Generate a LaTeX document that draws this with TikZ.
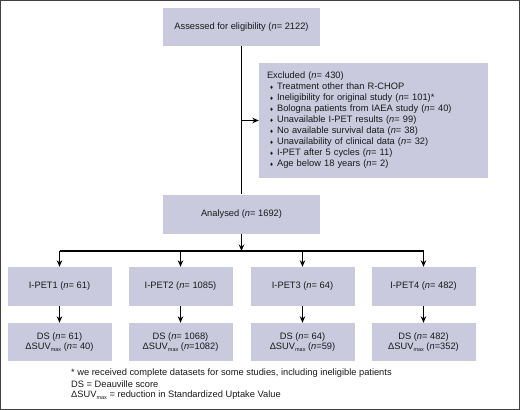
\documentclass[tikz,border=0pt]{standalone}
\usepackage{fontspec}
\setmainfont{Liberation Sans}
\usetikzlibrary{arrows.meta}
\definecolor{boxfill}{RGB}{201,202,221}
\definecolor{txt}{RGB}{25,25,25}
\newcommand{\nn}{\textit{n}}
\newcommand{\bul}{\hspace*{3pt}{\fontsize{6}{6}\selectfont ♦}\hspace{4pt}}
\newcommand{\dsuv}{ΔSUV\raisebox{-2.2pt}{\fontsize{5.5}{5.5}\selectfont max}}
\begin{document}
\begin{tikzpicture}[x=1pt,y=-1pt,
  every node/.style={font=\fontsize{9.3}{11}\selectfont, text=txt},
  boxa/.style={fill=boxfill, draw=none, inner sep=0pt, align=center},
  conn/.style={line width=1.1pt, black},
  arr/.style={conn, -{Stealth[length=6.5pt,width=5.5pt]}}]
\useasboundingbox (0,0) rectangle (520,410);
\draw[black!75, line width=1.3pt] (0.65,0.65) rectangle (519.35,409.35);
\node[boxa, minimum width=157pt, minimum height=38pt] (assess) at (241.5,27) {Assessed for eligibility (\nn= 2122)};
\node[boxa, minimum width=229pt, minimum height=115pt, text width=213pt, align=left, inner xsep=8pt] (excl) at (373.5,120.5) {Excluded (\nn= 430)\\
\bul Treatment other than R-CHOP\\
\bul Ineligibility for original study (\nn= 101)*\\
\bul Bologna patients from IAEA study (\nn= 40)\\
\bul Unavailable I-PET results (\nn= 99)\\
\bul No available survival data (\nn= 38)\\
\bul Unavailability of clinical data (\nn= 32)\\
\bul I-PET after 5 cycles (\nn= 11)\\
\bul Age below 18 years (\nn= 2)};
\node[boxa, minimum width=157pt, minimum height=39pt] (anal) at (241.5,214) {Analysed (\nn= 1692)};
\coordinate (j) at (241.5,251);
\foreach \i/\x/\a/\b/\c in {1/59.5/61/61/\nn= 40, 2/180.5/1085/1068/\nn=1082, 3/302.5/64/64/\nn=59, 4/423.5/482/482/\nn=352} {
  \node[boxa, minimum width=104pt, minimum height=39pt] (pet\i) at (\x,286.5) {I-PET\i\ (\nn= \a)};
  \node[boxa, minimum width=104pt, minimum height=38pt] (ds\i) at (\x,342) {DS (\nn= \b)\\[-1pt]\dsuv\ (\c)};
  \coordinate (t\i) at (\x,251);
  \draw[arr] (t\i) -- (pet\i.north);
  \draw[arr] (pet\i.south) -- (ds\i.north);
}
\draw[conn] (assess.south) -- (anal.north);
\draw[arr] (assess.south |- excl.west) -- (excl.west);
\draw[arr] (anal.south) -- (j);
\draw[conn] (t1) -- (t4);
\node[anchor=west, inner sep=0pt] (f1) at (71,373) {* we received complete datasets for some studies, including ineligible patients};
\node[anchor=west, inner sep=0pt] (f2) at (71,384) {DS = Deauville score};
\node[anchor=west, inner sep=0pt] (f3) at (71,395) {\dsuv\ = reduction in Standardized Uptake Value};
\end{tikzpicture}
\end{document}
